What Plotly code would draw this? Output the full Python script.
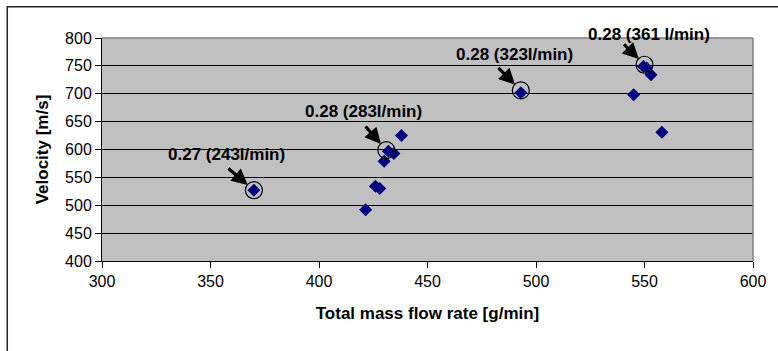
import plotly.graph_objects as go

# Data
mass_flow = [370, 421.5, 426, 428, 430, 432, 434.5, 438, 493, 545, 549.5, 551, 553, 558]
velocity = [527, 492, 534, 530, 579, 597, 593, 625, 702, 698, 749, 746, 734, 631]

circled_x = [370, 431, 493, 550]
circled_y = [527, 599, 706, 752]
labels = ["0.27 (243l/min)", "0.28 (283l/min)", "0.28 (323l/min)", "0.28 (361 l/min)"]

x_ticks = [300, 350, 400, 450, 500, 550, 600]
y_ticks = [400, 450, 500, 550, 600, 650, 700, 750, 800]

FONT = "Liberation Sans, Arial, sans-serif"

fig = go.Figure()
fig.add_trace(go.Scatter(
    x=mass_flow, y=velocity, mode="markers",
    marker=dict(symbol="diamond", size=10, color="#000080", line=dict(width=0)),
    showlegend=False, cliponaxis=False,
))
fig.add_trace(go.Scatter(
    x=circled_x, y=circled_y, mode="markers",
    marker=dict(symbol="circle-open", size=17, color="black", line=dict(width=1.2, color="black")),
    showlegend=False, cliponaxis=False,
))

# Arrow tails offsets (pixels) and label positions (paper)
arrow_off = [(-27, -23), (-22, -25), (-24, -24), (-22, -22)]
label_pos = [(0.0976, 0.4767), (0.3095, 0.6709), (0.5408, 0.9251), (0.7435, 1.0179)]

annotations = []
for (cx, cy, (ax, ay)) in zip(circled_x, circled_y, arrow_off):
    annotations.append(dict(
        x=cx, y=cy, xref="x", yref="y", ax=ax, ay=ay, text="",
        showarrow=True, arrowhead=2, arrowsize=1.0, arrowwidth=3.2,
        arrowcolor="black", standoff=8,
    ))
for (lx, ly), txt in zip(label_pos, labels):
    annotations.append(dict(
        x=lx, y=ly, xref="paper", yref="paper", text=txt, showarrow=False,
        xanchor="left", yanchor="middle",
        font=dict(family=FONT, size=17, color="black", weight="bold"),
    ))

fig.update_layout(
    width=778, height=351,
    margin=dict(l=102, r=23, t=38, b=90),
    paper_bgcolor="white", plot_bgcolor="#C0C0C0",
    font=dict(family=FONT, size=16, color="black"),
    annotations=annotations,
    shapes=[
        dict(type="rect", xref="paper", yref="paper", x0=-0.1455, x1=1.05, y0=-0.45, y1=1.1404,
             line=dict(color="#222222", width=1.5), fillcolor="rgba(0,0,0,0)", layer="below"),
        dict(type="line", xref="paper", yref="paper", x0=0, x1=1, y0=1, y1=1,
             line=dict(color="#808080", width=1.5)),
        dict(type="line", xref="paper", yref="paper", x0=1, x1=1, y0=0, y1=1,
             line=dict(color="#808080", width=1.5)),
    ],
)
fig.update_xaxes(
    range=[300, 600], tickvals=x_ticks, ticktext=[str(v) for v in x_ticks],
    showgrid=False, zeroline=False,
    showline=True, linecolor="black", linewidth=1,
    ticks="outside", ticklen=6, tickcolor="black",
    tickfont=dict(family=FONT, size=16, color="black"),
    title=dict(text="Total mass flow rate [g/min]", standoff=17,
               font=dict(family=FONT, size=17, color="black", weight="bold")),
)
fig.update_yaxes(
    range=[400, 800], tickvals=y_ticks, ticktext=[str(v) for v in y_ticks],
    showgrid=True, gridcolor="black", gridwidth=1, zeroline=False,
    showline=True, linecolor="black", linewidth=1,
    ticks="outside", ticklen=6, tickcolor="black",
    tickfont=dict(family=FONT, size=16, color="black"),
    title=dict(text="Velocity [m/s]", standoff=12,
               font=dict(family=FONT, size=17, color="black", weight="bold")),
)

fig.write_html("out.html")
